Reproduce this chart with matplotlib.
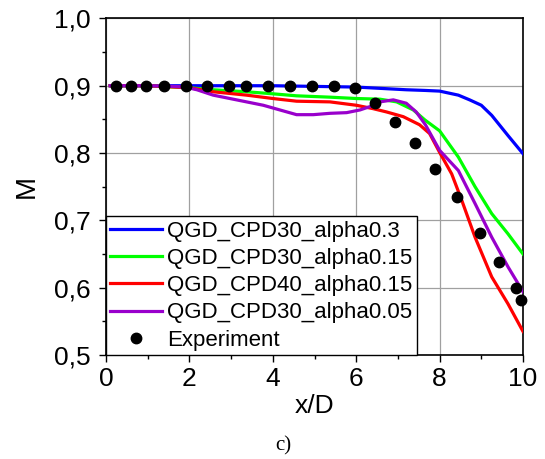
import matplotlib
matplotlib.use("Agg")
import matplotlib.pyplot as plt

plt.rcParams['font.family'] = ['Liberation Sans', 'DejaVu Sans']

# ---- data ----
blue_x = [0.1, 1.0, 2.0, 3.0, 4.0, 5.0, 6.0, 6.6, 7.2, 7.65, 8.0, 8.45, 8.72, 9.0, 9.25, 9.64, 10.0]
blue_y = [0.900, 0.900, 0.900, 0.900, 0.900, 0.899, 0.898, 0.896, 0.894, 0.893, 0.892, 0.886, 0.879, 0.871, 0.856, 0.826, 0.799]

green_x = [0.1, 1.0, 2.0, 2.57, 3.37, 4.0, 4.57, 5.37, 6.0, 6.57, 6.97, 7.37, 7.65, 8.0, 8.45, 8.85, 9.25, 9.64, 10.0]
green_y = [0.900, 0.900, 0.897, 0.894, 0.891, 0.888, 0.885, 0.883, 0.881, 0.880, 0.876, 0.864, 0.849, 0.833, 0.794, 0.750, 0.710, 0.680, 0.650]

red_x = [0.1, 1.0, 2.0, 2.57, 3.37, 4.0, 4.57, 5.37, 6.0, 6.4, 6.73, 7.13, 7.52, 7.76, 8.0, 8.29, 8.53, 8.85, 9.25, 9.64, 10.0]
red_y = [0.900, 0.900, 0.897, 0.891, 0.886, 0.881, 0.877, 0.876, 0.871, 0.866, 0.861, 0.854, 0.842, 0.829, 0.801, 0.769, 0.730, 0.675, 0.616, 0.576, 0.535]

purple_x = [0.1, 1.0, 1.6, 1.9, 2.18, 2.57, 2.97, 3.37, 3.77, 4.17, 4.57, 4.97, 5.37, 5.77, 6.09, 6.33, 6.57, 6.89, 7.2, 7.44, 7.66, 8.0, 8.45, 8.85, 9.25, 9.64, 10.0]
purple_y = [0.900, 0.900, 0.899, 0.898, 0.894, 0.886, 0.881, 0.876, 0.871, 0.864, 0.857, 0.857, 0.859, 0.860, 0.864, 0.869, 0.876, 0.879, 0.874, 0.861, 0.842, 0.804, 0.774, 0.725, 0.675, 0.631, 0.594]

exp_x = [0.24, 0.61, 0.97, 1.39, 1.92, 2.42, 2.95, 3.36, 3.89, 4.41, 4.93, 5.47, 5.97, 6.45, 6.94, 7.40, 7.89, 8.41, 8.97, 9.42, 9.83, 9.96]
exp_y = [0.900, 0.900, 0.900, 0.900, 0.900, 0.900, 0.900, 0.900, 0.900, 0.900, 0.900, 0.900, 0.897, 0.875, 0.846, 0.815, 0.776, 0.734, 0.681, 0.638, 0.599, 0.582]

labels = ['QGD_CPD30_alpha0.3', 'QGD_CPD30_alpha0.15', 'QGD_CPD40_alpha0.15',
          'QGD_CPD30_alpha0.05', 'Experiment']
xticks = [0, 2, 4, 6, 8, 10]
yticks = [0.5, 0.6, 0.7, 0.8, 0.9, 1.0]
ytick_labels = ['0,5', '0,6', '0,7', '0,8', '0,9', '1,0']

# ---- figure ----
fig = plt.figure(figsize=(5.45, 4.59), dpi=100)
ax = fig.add_axes([106/545, 1 - 355/459, (523 - 106)/545, (355 - 18.4)/459])

lw = 2.3
ax.plot(blue_x, blue_y, color='#0000ff', lw=lw, label=labels[0], zorder=3)
ax.plot(green_x, green_y, color='#00ff00', lw=lw, label=labels[1], zorder=3)
ax.plot(red_x, red_y, color='#ff0000', lw=lw, label=labels[2], zorder=3)
ax.plot(purple_x, purple_y, color='#9900cc', lw=lw, label=labels[3], zorder=3)
ax.plot(exp_x, exp_y, 'o', color='black', ms=7.5, label=labels[4], zorder=5, clip_on=False)

ax.set_xlim(0, 10)
ax.set_ylim(0.5, 1.0)
ax.set_xticks(xticks)
ax.set_xticklabels([str(t) for t in xticks])
ax.set_yticks(yticks)
ax.set_yticklabels(ytick_labels)
ax.set_xticks([1, 3, 5, 7, 9], minor=True)
ax.set_yticks([0.55, 0.65, 0.75, 0.85, 0.95], minor=True)

ax.grid(True, which='major', color='#a0a0a0', lw=0.9)
ax.set_axisbelow(True)
ax.tick_params(which='major', direction='out', length=5, width=1, labelsize=19, pad=4)
ax.tick_params(which='minor', direction='out', length=3, width=1)
ax.tick_params(axis='y', which='major', pad=6)
for s in ax.spines.values():
    s.set_linewidth(1.2)

ax.set_xlabel('x/D', fontsize=19, labelpad=2)
ax.set_ylabel('M', fontsize=20, labelpad=10)

leg = ax.legend(loc='lower left', bbox_to_anchor=(0, 0), borderaxespad=0,
                fontsize=16, frameon=True, fancybox=False, edgecolor='black',
                framealpha=1, handlelength=2.3, handletextpad=0.25,
                labelspacing=0.28, borderpad=0.2, numpoints=1)
leg.get_frame().set_linewidth(1.0)

fig.text(283/545, 1 - 446/459, 'c)', fontsize=15, family='Liberation Serif',
         ha='center', va='center')

fig.savefig('out.png', dpi=100)
